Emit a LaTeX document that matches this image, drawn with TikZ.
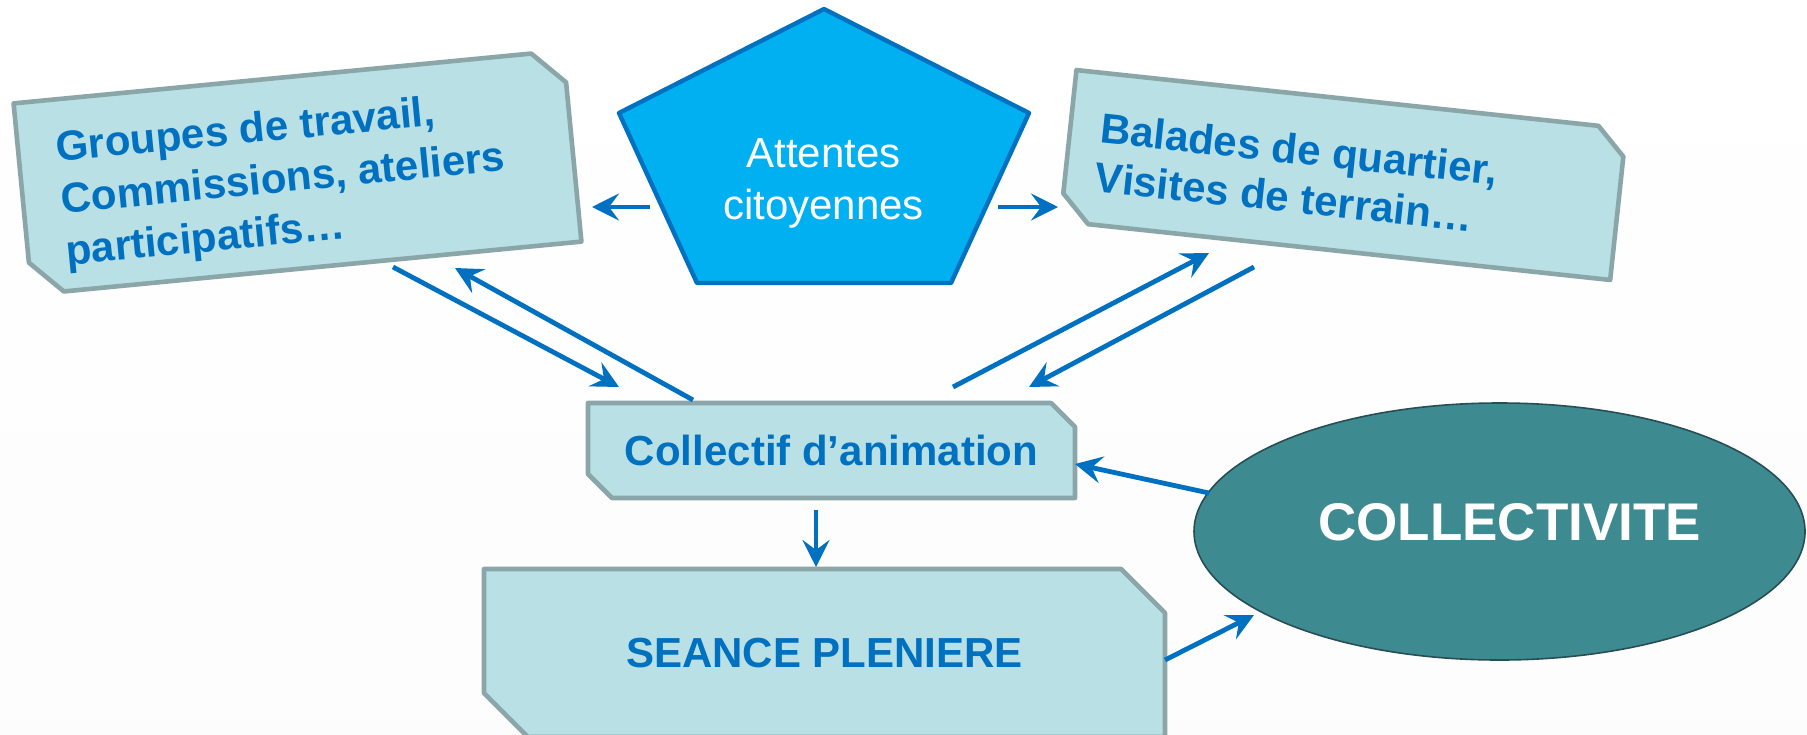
\documentclass[tikz,border=0pt]{standalone}
\usepackage{fontspec}
\setmainfont{Liberation Sans}
\usetikzlibrary{arrows.meta,shapes.geometric,calc,backgrounds}
\definecolor{boxfill}{RGB}{185,224,228}
\definecolor{boxline}{RGB}{139,166,169}
\definecolor{txtblue}{RGB}{0,112,192}
\definecolor{pentafill}{RGB}{0,176,240}
\definecolor{ellfill}{RGB}{61,139,145}
\definecolor{ellline}{RGB}{38,78,84}
\tikzset{
  snipbox/.style={rectangle, inner sep=0pt, outer sep=0pt, text=txtblue,
    font=\bfseries\fontsize{21}{26}\selectfont},
  snipline/.style={draw=boxline, fill=boxfill, line width=2.3pt, line join=round},
  boxtext/.style={anchor=north west, inner sep=0pt, align=left, text=txtblue,
    font=\bfseries\fontsize{21}{26}\selectfont},
  arr/.style={draw=txtblue, line width=2.4pt, -{Stealth[length=13.5pt,width=13.5pt,inset=5pt]}}
}
\newcommand{\snipshape}[2]{%
  \begin{pgfonlayer}{background}
    \draw[snipline] (#1.north west) -- ($(#1.north east)!#2!(#1.north west)$)
      -- ($(#1.north east)!#2!(#1.south east)$) -- (#1.south east)
      -- ($(#1.south west)!#2!(#1.south east)$) -- ($(#1.south west)!#2!(#1.north west)$)
      -- cycle;
  \end{pgfonlayer}}
\begin{document}
\begin{tikzpicture}[x=0.5pt,y=-0.5pt]
      \useasboundingbox (0,0) rectangle (1807,734);
      \begin{pgfonlayer}{background}
        \fill[top color=white,bottom color=black!1] (0,0) rectangle (1807,734);
      \end{pgfonlayer}
      \node[snipbox, rotate=5.5, minimum width=276pt, minimum height=96pt]
        (groupes) at (297.5,172.5) {};
      \snipshape{groupes}{16pt}
      \node[boxtext, rotate=5.5] (groupestxt) at (54,131)
        {Groupes de travail,\\Commissions, ateliers\\participatifs…};
      \node[snipbox, rotate=-6.1, minimum width=276.5pt, minimum height=76pt]
        (balades) at (1343.3,175) {};
      \snipshape{balades}{14pt}
      \node[boxtext, rotate=-6.1, font=\bfseries\fontsize{21}{24.5}\selectfont] (baladestxt)
        at (1102,112) {Balades de quartier,\\Visites de terrain…};
      \draw[draw=txtblue, fill=pentafill, line width=2.2pt, line join=round]
        (824,9) -- (619,113) -- (697,283) -- (951,283) -- (1029,113) -- cycle;
      \node[anchor=north, inner sep=0pt, align=center, text=white,
        font=\fontsize{21}{26}\selectfont] (attentes) at (823.5,138) {Attentes\\citoyennes};
      \node[snipbox, minimum width=243.5pt, minimum height=47.5pt]
        (collectif) at (831.5,450.5) {Collectif d’animation};
      \snipshape{collectif}{12pt}
      \node[snipbox, minimum width=340.5pt, minimum height=84pt]
        (seance) at (824.5,653) {SEANCE PLENIERE};
      \snipshape{seance}{22pt}
      \node[ellipse, draw=ellline, fill=ellfill, line width=0.8pt, minimum width=305.5pt,
        minimum height=128.5pt, text=white, text depth=10pt,
        font=\bfseries\fontsize{26.5}{30}\selectfont] (collectivite) at (1499.5,531.5)
        {\hspace*{10pt}COLLECTIVITE};
      \path
        (650,207) coordinate (a1)
        (592,207) coordinate (a2)
        (998,207) coordinate (b1)
        (1058,207) coordinate (b2)
        (393,267) coordinate (c1)
        (619,387) coordinate (c2)
        (693,400) coordinate (d1)
        (455,268) coordinate (d2)
        (953,387) coordinate (e1)
        (1209,253) coordinate (e2)
        (1254,267) coordinate (f1)
        (1029,387) coordinate (f2)
        (816,510) coordinate (g1)
        (816,567) coordinate (g2)
        (1209,493) coordinate (h1)
        (1075,464) coordinate (h2)
        (1165,660) coordinate (i1)
        (1254,615) coordinate (i2);
      \begin{scope}[arr]
        \draw (a1) to (a2);
        \draw (b1) to (b2);
        \draw (c1) to (c2);
        \draw (d1) to (d2);
        \draw (e1) to (e2);
        \draw (f1) to (f2);
        \draw (g1) to (g2);
        \draw (h1) to (h2);
        \draw (i1) to (i2);
      \end{scope}
    \end{tikzpicture}
\end{document}
